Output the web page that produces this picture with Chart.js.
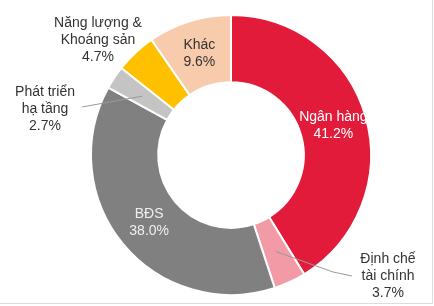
<!DOCTYPE html>
<html>
<head>
<meta charset="utf-8">
<script src="https://cdn.jsdelivr.net/npm/chart.js@4/dist/chart.umd.min.js"></script>
<style>
  html, body { margin: 0; padding: 0; background: #fff; }
  #wrap { width: 434px; height: 306px; position: relative; }
</style>
</head>
<body>
<div id="wrap"><canvas id="sector-share"></canvas></div>
<script>
// sector shares, % of total (clockwise from 12 o'clock)
const sectors = ['Ngân hàng', 'Định chế tài chính', 'BĐS', 'Phát triển hạ tầng', 'Năng lượng & Khoáng sản', 'Khác']
const shares = [41.2, 3.7, 38.0, 2.7, 4.7, 9.6]
const sliceColors = ['#e31b3a', '#f29ba6', '#808080', '#c4c4c4', '#ffc000', '#f8cbad']

// how each label is drawn: text lines, colour, and for outside labels the
// block centre / leader end as offsets from the doughnut centre
const labelLines = [
  ['Ngân hàng', '41.2%'],
  ['Định chế', 'tài chính', '3.7%'],
  ['BĐS', '38.0%'],
  ['Phát triển', 'hạ tầng', '2.7%'],
  ['Năng lượng &', 'Khoáng sản', '4.7%'],
  ['Khác', '9.6%'],
]
const labelStyle = [
  { color: '#ffffff' },
  { color: '#333333', at: [157, 121], leader: [[102, 117], [121, 121]] },
  { color: '#eeeeee' },
  { color: '#333333', at: [-186, -46], leader: [[-149, -48]] },
  { color: '#333333', at: [-133, -115] },
  { color: '#333333' },
]

const sliceLabels = {
  id: 'sliceLabels',
  afterDatasetsDraw(chart) {
    const ctx = chart.ctx
    const meta = chart.getDatasetMeta(0)
    ctx.save()
    ctx.font = '14px "Liberation Sans", Arial, sans-serif'
    ctx.textAlign = 'center'
    ctx.textBaseline = 'middle'
    meta.data.forEach((arc, i) => {
      const st = labelStyle[i]
      const mid = arc.tooltipPosition()
      let cx = mid.x
      let cy = mid.y
      if (st.at) {
        cx = arc.x + st.at[0]
        cy = arc.y + st.at[1]
      }
      if (st.leader) {
        ctx.strokeStyle = '#9a9a9a'
        ctx.lineWidth = 1
        ctx.beginPath()
        ctx.moveTo(mid.x, mid.y)
        st.leader.forEach(p => ctx.lineTo(arc.x + p[0], arc.y + p[1]))
        ctx.stroke()
      }
      const lines = labelLines[i]
      const lh = 17
      ctx.fillStyle = st.color
      lines.forEach((t, k) => {
        ctx.fillText(t, cx, cy + (k - (lines.length - 1) / 2) * lh)
      })
    })
    ctx.restore()
  },
  beforeDraw(chart) {
    // faint frame line on the right and bottom, like the source image
    const ctx = chart.ctx
    ctx.save()
    ctx.strokeStyle = '#dcdcdc'
    ctx.lineWidth = 1
    ctx.beginPath()
    ctx.moveTo(432.5, 0)
    ctx.lineTo(432.5, 303.5)
    ctx.lineTo(0, 303.5)
    ctx.stroke()
    ctx.restore()
  },
}

const pieConfig = {
  type: 'doughnut',
  data: {
    labels: sectors,
    datasets: [
      {
        data: shares,
        backgroundColor: sliceColors,
        borderColor: '#ffffff',
        borderWidth: 2,
        hoverOffset: 0,
      },
    ],
  },
  options: {
    responsive: true,
    maintainAspectRatio: false,
    animation: false,
    cutout: '52%',
    layout: { padding: { top: 14, bottom: 10, left: 28, right: 0 } },
    plugins: {
      legend: { display: false },
      tooltip: { enabled: false },
    },
  },
  plugins: [sliceLabels],
}

const pieCtx = document.getElementById('sector-share')
window.myPie = new Chart(pieCtx, pieConfig)
</script>
</body>
</html>
